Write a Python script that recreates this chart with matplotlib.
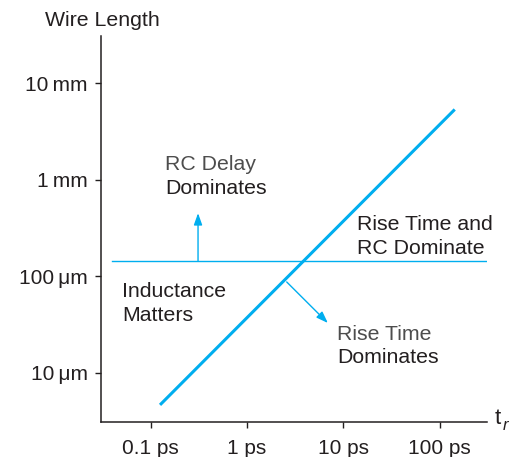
import matplotlib
matplotlib.use("Agg")
import matplotlib.pyplot as plt

plt.rcParams['font.family'] = ['Liberation Sans', 'DejaVu Sans']

# rise time (ps) and wire length (um)
x_ticks = [0.1, 1, 10, 100]
x_labels = ["0.1 ps", "1 ps", "10 ps", "100 ps"]
y_ticks = [10, 100, 1000, 10000]
y_labels = ["10\u2009\u03bcm", "100\u2009\u03bcm", "1\u2009mm", "10\u2009mm"]

# boundary where rise time and wire flight time meet (slope 1)
diag_tr = [0.125, 143]
diag_len = [4.66, 5330]

# RC delay boundary
rc_len = 143
rc_tr = [0.0394, 300]

# arrows: (start, end)
arrow_up = ((0.31, 143), (0.31, 450))
arrow_diag = ((2.58, 87.3), (6.9, 32.8))

blue = "#00aeef"
dark = "#231f20"
grey = "#4d4d4d"

fig = plt.figure(figsize=(5.19, 4.57), dpi=100)
ax = fig.add_axes([0.1946, 0.0766, 0.7437, 0.8446])
ax.set_xscale("log")
ax.set_yscale("log")
ax.set_xlim(0.0305, 309)
ax.set_ylim(3.1, 30690)

ax.plot(diag_tr, diag_len, color=blue, lw=2.2, solid_capstyle="butt")
ax.plot(rc_tr, [rc_len, rc_len], color=blue, lw=1.0)

for (x0, y0), (x1, y1) in [arrow_up, arrow_diag]:
    ax.annotate("", xy=(x1, y1), xytext=(x0, y0),
                arrowprops=dict(arrowstyle="-|>,head_length=0.7,head_width=0.25",
                                color=blue, lw=1.0, shrinkA=0, shrinkB=0))

for spine in ["top", "right"]:
    ax.spines[spine].set_visible(False)
for spine in ["left", "bottom"]:
    ax.spines[spine].set_color(dark)
    ax.spines[spine].set_linewidth(1.1)

ax.set_xticks(x_ticks)
ax.set_xticklabels(x_labels)
ax.set_yticks(y_ticks)
ax.set_yticklabels(y_labels)
ax.minorticks_off()
ax.tick_params(colors=dark, labelsize=15, length=4.5, width=1.0, pad=5)
ax.tick_params(axis="x", pad=8)

fs = 15.3
def two_line(x, y, first, second, c1, c2):
    ax.text(x, y, first, color=c1, fontsize=fs, va="top", ha="left")
    ax.annotate(second, xy=(x, y), xytext=(0, -17), textcoords="offset points",
                color=c2, fontsize=fs, va="top", ha="left")

two_line(0.141, 1800, "RC Delay", "Dominates", grey, dark)
two_line(13.8, 430, "Rise Time and", "RC Dominate", dark, dark)
two_line(0.0503, 86.7, "Inductance", "Matters", dark, dark)
two_line(8.55, 31.5, "Rise Time", "Dominates", grey, dark)

fig.text(45 / 519, 1 - 11 / 457, "Wire Length", color=dark, fontsize=15.3, va="top", ha="left")
fig.text(495 / 519, 1 - 424 / 457, "t", color=dark, fontsize=16, va="baseline", ha="left")
fig.text(503 / 519, 1 - 430 / 457, "r", color=dark, fontsize=12, style="italic", va="baseline", ha="left")

fig.savefig("out.png", dpi=100)
